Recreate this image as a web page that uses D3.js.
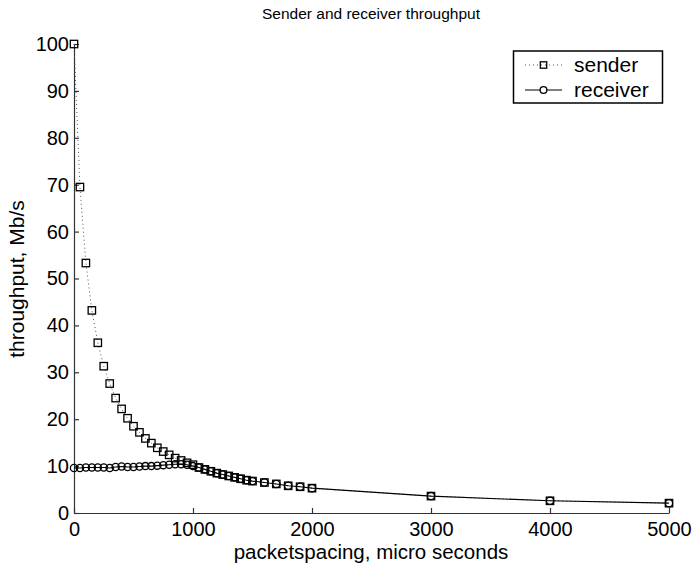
<!DOCTYPE html>
<html><head><meta charset="utf-8">
<script src="https://cdn.jsdelivr.net/npm/d3@7"></script>
<style>body{margin:0;background:#fff;} text{font-family:"Liberation Sans",Arial,Helvetica,sans-serif;fill:#000;}</style>
</head><body>
<svg id="c" width="696" height="565"></svg>
<script>
const spacing = [0,50,100,150,200,250,300,350,400,450,500,550,600,650,700,750,800,850,900,950,1000,
  1050,1100,1150,1200,1250,1300,1350,1400,1450,1500,1600,1700,1800,1900,2000,3000,4000,5000];
const sender = [100,69.5,53.3,43.2,36.3,31.3,27.6,24.5,22.2,20.2,18.5,17.2,15.9,14.9,13.9,13.1,12.4,11.7,11.2,10.7,10.3,
  9.7,9.3,8.9,8.5,8.2,7.9,7.6,7.3,7.0,6.8,6.5,6.2,5.8,5.6,5.3,3.6,2.6,2.1];
const receiver = [9.6,9.6,9.7,9.7,9.7,9.7,9.6,9.8,9.9,9.8,9.8,9.9,10.0,10.0,10.1,10.2,10.3,10.4,10.4,10.3,10.0,
  9.7,9.3,8.9,8.5,8.2,7.9,7.6,7.3,7.0,6.8,6.5,6.2,5.8,5.6,5.3,3.6,2.6,2.1];
const xTicks = [0,1000,2000,3000,4000,5000];
const yTicks = [0,10,20,30,40,50,60,70,80,90,100];
const seriesNames = ["sender","receiver"];
const title = "Sender and receiver throughput";
const xLabel = "packetspacing, micro seconds";
const yLabel = "throughput, Mb/s";

const svg = d3.select("#c");
const x = d3.scaleLinear().domain([0,5000]).range([74,669]);
const y = d3.scaleLinear().domain([0,100]).range([513,44]);

const xa = svg.append("g").attr("transform","translate(0,513)")
  .call(d3.axisBottom(x).tickValues(xTicks).tickSizeInner(-5).tickSizeOuter(0).tickPadding(9).tickFormat(d3.format("d")));
const ya = svg.append("g").attr("transform","translate(74,0)")
  .call(d3.axisLeft(y).tickValues(yTicks).tickSizeInner(-5).tickSizeOuter(0).tickPadding(5).tickFormat(d3.format("d")));
[xa,ya].forEach(a=>{
  a.selectAll("path,line").attr("stroke","#333").attr("stroke-width",1.2);
  a.selectAll("text").attr("font-size",20).attr("font-family","Liberation Sans, Arial, sans-serif").attr("fill","#000");
});

const sData = spacing.map((s,i)=>[s,sender[i]]);
const rData = spacing.map((s,i)=>[s,receiver[i]]);
const line = d3.line().x(d=>x(d[0])).y(d=>y(d[1]));

svg.append("path").datum(sData).attr("d",line).attr("fill","none")
  .attr("stroke","#555").attr("stroke-width",1).attr("stroke-dasharray","1,3");
svg.append("path").datum(rData).attr("d",line).attr("fill","none")
  .attr("stroke","#000").attr("stroke-width",1.1);

svg.append("g").selectAll("rect").data(sData).join("rect")
  .attr("x",d=>x(d[0])-3.7).attr("y",d=>y(d[1])-3.7).attr("width",7.4).attr("height",7.4)
  .attr("fill","none").attr("stroke","#000").attr("stroke-width",1.3);
svg.append("g").selectAll("circle").data(rData).join("circle")
  .attr("cx",d=>x(d[0])).attr("cy",d=>y(d[1])).attr("r",3.6)
  .attr("fill","none").attr("stroke","#000").attr("stroke-width",1.3);

svg.append("text").attr("x",371).attr("y",19).attr("text-anchor","middle").attr("font-size",15.5).text(title);
svg.append("text").attr("x",371).attr("y",559).attr("text-anchor","middle").attr("font-size",20.5).text(xLabel);
svg.append("text").attr("transform","translate(24,279) rotate(-90)").attr("text-anchor","middle").attr("font-size",21).text(yLabel);

// legend
const lg = svg.append("g");
lg.append("rect").attr("x",513.5).attr("y",51).attr("width",149).attr("height",52)
  .attr("fill","#fff").attr("stroke","#000").attr("stroke-width",1.5);
const ly = [65,90];
lg.append("line").attr("x1",525).attr("x2",562).attr("y1",ly[0]).attr("y2",ly[0])
  .attr("stroke","#555").attr("stroke-width",1).attr("stroke-dasharray","1,3");
lg.append("rect").attr("x",543.5-3.2).attr("y",ly[0]-3.2).attr("width",6.4).attr("height",6.4)
  .attr("fill","none").attr("stroke","#000").attr("stroke-width",1.3);
lg.append("line").attr("x1",525).attr("x2",562).attr("y1",ly[1]).attr("y2",ly[1])
  .attr("stroke","#000").attr("stroke-width",1.1);
lg.append("circle").attr("cx",543.5).attr("cy",ly[1]).attr("r",3.4)
  .attr("fill","#fff").attr("stroke","#000").attr("stroke-width",1.3);
seriesNames.forEach((n,i)=>{
  lg.append("text").attr("x",574).attr("y",ly[i]+7).attr("font-size",21).text(n);
});
</script>
</body></html>
